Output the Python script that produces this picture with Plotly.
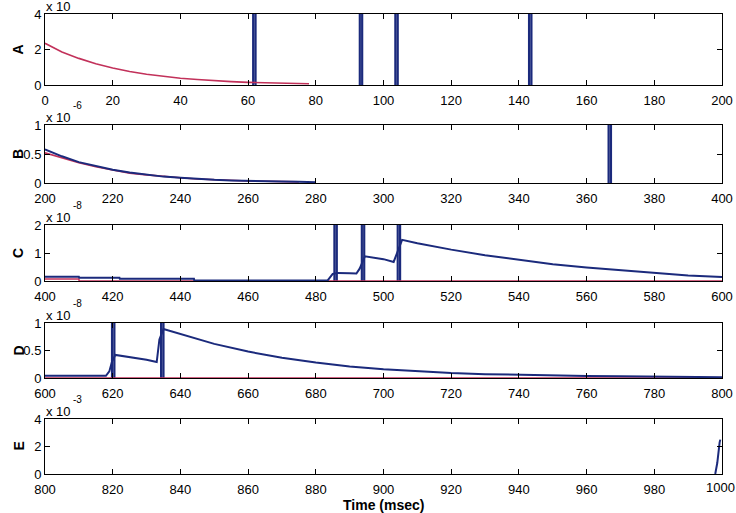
import plotly.graph_objects as go

# ---------------- data ----------------
panel_names = ["A", "B", "C", "D", "E"]
x_ranges = [[0, 200], [200, 400], [400, 600], [600, 800], [800, 1000]]
x_ticks = [[0, 20, 40, 60, 80, 100, 120, 140, 160, 180, 200],
           [200, 220, 240, 260, 280, 300, 320, 340, 360, 380, 400],
           [400, 420, 440, 460, 480, 500, 520, 540, 560, 580, 600],
           [600, 620, 640, 660, 680, 700, 720, 740, 760, 780, 800],
           [800, 820, 840, 860, 880, 900, 920, 940, 960, 980, 1000]]
y_ranges = [[0, 4], [0, 1], [0, 2], [0, 1], [0, 4]]
y_ticks = [[0, 2, 4], [0, 0.5, 1], [0, 1, 2], [0, 0.5, 1], [0, 2, 4]]
y_ticktext = [["0", "2", "4"], ["0", "0.5", "1"], ["0", "1", "2"], ["0", "0.5", "1"], ["0", "2", "4"]]
exponents = ["", "-6", "-8", "-8", "-3"]

# Panel A
red_A_t = [0, 5, 10, 15, 20, 25, 30, 35, 40, 45, 50, 55, 60, 65, 70, 75, 78]
red_A_v = [2.35, 1.86, 1.5, 1.2, 0.96, 0.76, 0.61, 0.48, 0.38, 0.31, 0.24, 0.19, 0.15, 0.12, 0.1, 0.08, 0.07]
spikes_A = [61.5, 93.0, 103.5, 143.0]

# Panel B
blue_B_t = [200, 205, 210, 215, 220, 225, 230, 235, 240, 245, 250, 255, 260, 265, 270, 275, 280]
blue_B_v = [0.58, 0.46, 0.36, 0.29, 0.23, 0.18, 0.14, 0.11, 0.09, 0.07, 0.055, 0.045, 0.035, 0.03, 0.025, 0.02, 0.015]
red_B_t = [200, 205, 210, 215, 220, 225, 230, 235, 240, 245, 250, 255, 260, 265, 270, 275]
red_B_v = [0.52, 0.43, 0.35, 0.28, 0.22, 0.17, 0.14, 0.11, 0.09, 0.07, 0.055, 0.045, 0.035, 0.03, 0.025, 0.02]
spikes_B = [366.5]

# Panel C
blue_C_t = [400, 410, 410.1, 422, 422.1, 444, 444.1, 483.5, 485, 486.5, 490, 492, 493, 494.5, 500, 503,
            504, 505.5, 510, 520, 530, 540, 550, 560, 570, 580, 590, 600]
blue_C_v = [0.15, 0.15, 0.12, 0.12, 0.08, 0.08, 0.02, 0.02, 0.25, 0.29, 0.28, 0.27, 0.45, 0.88, 0.78, 0.68,
            1.0, 1.47, 1.35, 1.12, 0.92, 0.75, 0.6, 0.48, 0.38, 0.28, 0.2, 0.14]
red_C_t = [400, 410, 410.1, 600]
red_C_v = [0.07, 0.07, 0.0, 0.0]
spikes_C = [485.5, 493.6, 504.2]

# Panel D
blue_D_t = [600, 618, 619, 619.8, 620.8, 625, 630, 633, 633.8, 635, 640, 650, 660, 670, 680, 690, 700,
            710, 720, 730, 740, 750, 760, 770, 780, 790, 800]
blue_D_v = [0.04, 0.04, 0.12, 0.3, 0.42, 0.38, 0.33, 0.29, 0.7, 0.89, 0.8, 0.62, 0.48, 0.37, 0.28, 0.21, 0.16,
            0.12, 0.09, 0.07, 0.055, 0.045, 0.035, 0.03, 0.025, 0.02, 0.015]
red_D_t = [600, 800]
red_D_v = [0.0, 0.0]
spikes_D = [619.8, 634.3]

# Panel E
blue_E_t = [998.0, 998.6, 999.3, 999.5]
blue_E_v = [0.0, 0.8, 2.3, 2.5]
spikes_E = []

spike_top = 1000.0
spike_width = 0.7

red_series = [(red_A_t, red_A_v), (red_B_t, red_B_v), (red_C_t, red_C_v), (red_D_t, red_D_v), None]
blue_series = [None, (blue_B_t, blue_B_v), (blue_C_t, blue_C_v), (blue_D_t, blue_D_v), (blue_E_t, blue_E_v)]
spike_series = [spikes_A, spikes_B, spikes_C, spikes_D, spikes_E]

# ---------------- layout geometry ----------------
W, H = 736, 513
panel_px = [(14, 85), (125, 183), (225, 281), (323, 378), (419, 474)]
x_left, x_right = 45, 722

RED = "#c2315a"
BLUE = "#1b2a7c"
FONT = "Liberation Sans, Arial, sans-serif"

fig = go.Figure()

for i in range(5):
    xa = "x" if i == 0 else f"x{i+1}"
    ya = "y" if i == 0 else f"y{i+1}"
    sx, sy = [], []
    for s in spike_series[i]:
        sx += [s, s, s + spike_width, s + spike_width, None]
        sy += [0, spike_top, spike_top, 0, None]
    if sx:
        fig.add_trace(go.Scatter(x=sx, y=sy, mode="lines", line=dict(color=BLUE, width=2.2),
                                 xaxis=xa, yaxis=ya, showlegend=False, hoverinfo="skip"))
    if red_series[i] is not None:
        fig.add_trace(go.Scatter(x=red_series[i][0], y=red_series[i][1], mode="lines",
                                 line=dict(color=RED, width=1.6), xaxis=xa, yaxis=ya, showlegend=False))
    if blue_series[i] is not None:
        fig.add_trace(go.Scatter(x=blue_series[i][0], y=blue_series[i][1], mode="lines",
                                 line=dict(color=BLUE, width=2), xaxis=xa, yaxis=ya, showlegend=False))

layout = dict(
    template="none",
    width=W, height=H, margin=dict(l=0, r=0, t=0, b=0, autoexpand=False),
    paper_bgcolor="white", plot_bgcolor="white", showlegend=False,
    font=dict(family=FONT, size=13, color="black"),
)
annotations = []
for i in range(5):
    top, bot = panel_px[i]
    xk = "xaxis" if i == 0 else f"xaxis{i+1}"
    yk = "yaxis" if i == 0 else f"yaxis{i+1}"
    ya = "y" if i == 0 else f"y{i+1}"
    xa = "x" if i == 0 else f"x{i+1}"
    ticktext = [str(v) for v in x_ticks[i]]
    if i == 4:
        # last label would spill past the page edge and be hidden; drawn as annotation below
        ticktext[-1] = ""
        annotations.append(dict(text=str(x_ticks[i][-1]), xref=xa, yref="paper",
                                x=x_ticks[i][-1], y=1 - (bot + 4) / H, xshift=-2, showarrow=False,
                                font=dict(family=FONT, size=13, color="black"),
                                xanchor="center", yanchor="top"))
    layout[xk] = dict(
        domain=[x_left / W, x_right / W], range=x_ranges[i], anchor=ya, automargin=False,
        tickmode="array", tickvals=x_ticks[i], ticktext=ticktext,
        ticks="inside", ticklen=5, tickcolor="black", showline=True, linecolor="black",
        linewidth=1, mirror="ticks", showgrid=False, zeroline=False,
        ticklabelstandoff=3,
        tickfont=dict(family=FONT, size=13, color="black"),
    )
    layout[yk] = dict(
        domain=[1 - bot / H, 1 - top / H], range=y_ranges[i], anchor=xa, automargin=False,
        tickmode="array", tickvals=y_ticks[i], ticktext=y_ticktext[i],
        ticks="inside", ticklen=5, tickcolor="black", showline=True, linecolor="black",
        linewidth=1, mirror="ticks", showgrid=False, zeroline=False,
        tickfont=dict(family=FONT, size=13, color="black"),
    )
    annotations.append(dict(text=f"<b>{panel_names[i]}</b>", xref="paper", yref="paper",
                            x=18 / W, y=1 - ((top + bot) / 2) / H, showarrow=False,
                            textangle=-90, font=dict(family=FONT, size=14, color="black"),
                            xanchor="center", yanchor="middle"))
    annotations.append(dict(text="x 10", xref="paper", yref="paper",
                            x=44 / W, y=1 - (top - 8) / H, showarrow=False,
                            font=dict(family=FONT, size=13, color="black"),
                            xanchor="left", yanchor="middle"))
    if exponents[i]:
        annotations.append(dict(text=exponents[i], xref="paper", yref="paper",
                                x=71 / W, y=1 - (top - 20) / H, showarrow=False,
                                font=dict(family=FONT, size=10, color="black"),
                                xanchor="left", yanchor="middle"))

annotations.append(dict(text="<b>Time (msec)</b>", xref="paper", yref="paper",
                        x=((x_left + x_right) / 2) / W, y=1 - 505 / H, showarrow=False,
                        font=dict(family=FONT, size=14, color="black"),
                        xanchor="center", yanchor="middle"))
layout["annotations"] = annotations
fig.update_layout(**layout)

fig.write_html("out.html")
